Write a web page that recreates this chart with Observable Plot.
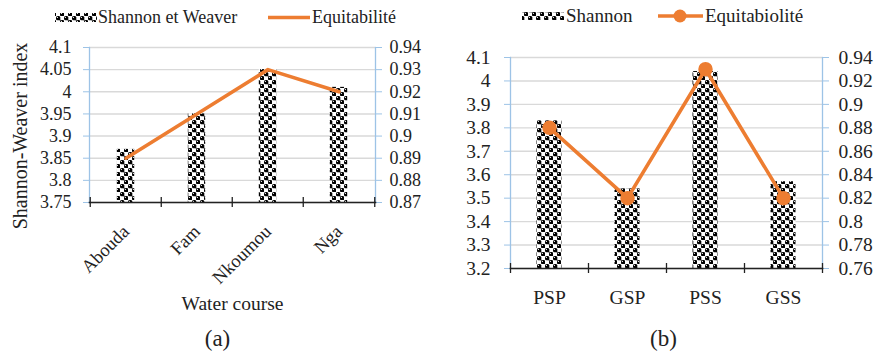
<!DOCTYPE html>
<html><head><meta charset="utf-8">
<script src="https://cdn.jsdelivr.net/npm/d3@7"></script>
<script src="https://cdn.jsdelivr.net/npm/@observablehq/plot@0.6"></script>
<style>
body{margin:0;background:#fff;font-family:"Liberation Serif","Times New Roman",serif;}
#wrap{position:relative;width:882px;height:357px;overflow:hidden;background:#fff}
.panel{position:absolute;top:0}
.lg{position:absolute;font-family:"Liberation Serif","Times New Roman",serif;color:#222;white-space:nowrap;line-height:1}
svg text{font-family:"Liberation Serif","Times New Roman",serif;}
</style></head><body>
<svg width="0" height="0" style="position:absolute">
  <defs>
    <pattern id="dots" width="8" height="8" patternUnits="userSpaceOnUse">
      <rect width="8" height="8" fill="#fff"/>
      <rect x="0" y="0" width="4.3" height="4.3" rx="1.5" fill="#000"/>
      <rect x="4" y="4" width="4.3" height="4.3" rx="1.5" fill="#000"/>
      <rect x="3.6" y="3.6" width="1.1" height="1.1" fill="#000"/>
      <circle cx="1.4" cy="1.4" r="0.55" fill="#fff"/>
      <circle cx="5.4" cy="5.4" r="0.55" fill="#fff"/>
    </pattern>
  </defs>
</svg>
<div id="wrap"></div>
<script>
// ---- Data panel (a)
const catsA = ["Abouda", "Fam", "Nkoumou", "Nga"];
const shannonA = [3.87, 3.95, 4.05, 4.01];
const equitA = [0.89, 0.91, 0.93, 0.92];
const yTicksA = [3.75, 3.8, 3.85, 3.9, 3.95, 4, 4.05, 4.1];
const eTicksA = [0.87, 0.88, 0.89, 0.9, 0.91, 0.92, 0.93, 0.94];
// ---- Data panel (b)
const catsB = ["PSP", "GSP", "PSS", "GSS"];
const shannonB = [3.83, 3.54, 4.04, 3.57];
const equitB = [0.88, 0.82, 0.93, 0.82];
const yTicksB = [3.2, 3.3, 3.4, 3.5, 3.6, 3.7, 3.8, 3.9, 4, 4.1];
const eTicksB = [0.76, 0.78, 0.8, 0.82, 0.84, 0.86, 0.88, 0.9, 0.92, 0.94];

const ORANGE = "#ED7D31", BLUE = "#9DC3E6", GRID = "#d9d9d9";
const FONT = "Liberation Serif, Times New Roman, serif";

function panel(cfg) {
  const {cats, sh, eq, yT, eT, width, height, mt, mb, ml, mr, fs, barFrac, rotate, xfs, dots} = cfg;
  const yMin = yT[0], yMax = yT[yT.length - 1], eMin = eT[0], eMax = eT[eT.length - 1];
  const toY = e => yMin + (e - eMin) / (eMax - eMin) * (yMax - yMin);
  const toE = y => +(eMin + (y - yMin) / (yMax - yMin) * (eMax - eMin)).toFixed(2);
  const data = cats.map((c, i) => ({cat: c, s: sh[i], e: eq[i], ey: toY(eq[i])}));
  const step = (width - ml - mr) / cats.length;
  const inset = step * (1 - barFrac) / 2;
  const marks = [
    Plot.gridY(yT, {stroke: GRID, strokeOpacity: 1, strokeWidth: 1.4}),
    Plot.barY(data, {x: "cat", y1: () => yMin, y2: "s", fill: "url(#dots)", insetLeft: inset, insetRight: inset}),
    Plot.frame({anchor: "left", stroke: BLUE, strokeWidth: 1.3}),
    Plot.frame({anchor: "right", stroke: BLUE, strokeWidth: 1.3}),
    Plot.axisY(yT, {anchor: "left", tickSize: 6, tickPadding: cfg.lpad, stroke: BLUE, fill: "#222", fontSize: fs, fontFamily: FONT, tickFormat: d => String(d), label: null}),
    Plot.axisY(eT.map(toY), {anchor: "right", tickSize: 6, tickPadding: cfg.rpad, stroke: BLUE, fill: "#222", fontSize: fs, fontFamily: FONT, tickFormat: d => String(toE(d)), label: null}),
    Plot.axisX({anchor: "bottom", tickSize: 0, tickPadding: cfg.xpad, tickRotate: rotate, fontSize: xfs, fontFamily: FONT, fill: "#222", label: null}),
    Plot.frame({anchor: "bottom", stroke: "#222", strokeWidth: 1.6}),
    Plot.ruleX(cats, {x: d => d, y1: () => yMin, y2: () => yMin, insetTop: -5, insetBottom: -5, dx: -step / 2, stroke: "#222", strokeWidth: 1.3}),
    Plot.ruleX(cats.slice(-1), {x: d => d, y1: () => yMin, y2: () => yMin, insetTop: -5, insetBottom: -5, dx: step / 2, stroke: "#222", strokeWidth: 1.3}),
    Plot.line(data, {x: "cat", y: "ey", stroke: ORANGE, strokeWidth: 3.6, strokeLinejoin: "round"})
  ];
  if (dots) marks.push(Plot.dot(data, {x: "cat", y: "ey", r: 6.5, fill: ORANGE, stroke: ORANGE}));
  if (cfg.xTitle) marks.push(Plot.text([cfg.xTitle], {text: d => d, frameAnchor: "bottom", lineAnchor: "middle", textAnchor: "middle", dy: cfg.xTitleDy, fontSize: 19.5, fontFamily: FONT, fill: "#222"}));
  if (cfg.yTitle) marks.push(Plot.text([cfg.yTitle], {text: d => d, frameAnchor: "left", textAnchor: "middle", lineAnchor: "middle", rotate: -90, dx: cfg.yTitleDx, dy: cfg.yTitleDy, fontSize: 20, fontFamily: FONT, fill: "#222"}));
  marks.push(Plot.text([cfg.caption], {text: d => d, frameAnchor: "bottom", lineAnchor: "middle", textAnchor: "middle", dy: cfg.capDy, dx: cfg.capDx, fontSize: 23, fontFamily: FONT, fill: "#222"}));
  return Plot.plot({
    width, height, marginTop: mt, marginBottom: mb, marginLeft: ml, marginRight: mr,
    style: {fontFamily: FONT, background: "transparent", overflow: "visible"},
    x: {domain: cats, padding: 0},
    y: {domain: [yMin, yMax]},
    marks
  });
}

const wrap = document.getElementById("wrap");
const pa = panel({cats: catsA, sh: shannonA, eq: equitA, yT: yTicksA, eT: eTicksA,
  width: 441, height: 357, mt: 47, mb: 155, ml: 89, mr: 66, fs: 18, xfs: 18.5, barFrac: 0.25, rotate: -45,
  lpad: 12, rpad: 8, xpad: 26, dots: false,
  xTitle: "Water course", xTitleDy: 101, yTitle: "Shannon-Weaver index", yTitleDx: -69, yTitleDy: 11,
  caption: "(a)", capDy: 136, capDx: -15});
pa.classList.add("panel"); pa.style.left = "0px";
wrap.appendChild(pa);
const pb = panel({cats: catsB, sh: shannonB, eq: equitB, yT: yTicksB, eT: eTicksB,
  width: 441, height: 357, mt: 57, mb: 89, ml: 69, mr: 60, fs: 19.5, xfs: 19.5, barFrac: 0.32, rotate: 0,
  lpad: 14, rpad: 10, xpad: 22, dots: true,
  caption: "(b)", capDy: 70, capDx: -3});
pb.classList.add("panel"); pb.style.left = "441px";
wrap.appendChild(pb);

// Legends
const lg = document.createElement("div");
lg.innerHTML = `
<svg style="position:absolute;left:0;top:0" width="882" height="40">
  <rect x="55" y="13" width="42" height="9" fill="url(#dots)"/>
  <line x1="268" x2="310" y1="17.5" y2="17.5" stroke="${ORANGE}" stroke-width="3.6"/>
  <rect x="522" y="12" width="42" height="8" fill="url(#dots)"/>
  <line x1="658" x2="703" y1="16" y2="16" stroke="${ORANGE}" stroke-width="3.6"/>
  <circle cx="680" cy="16" r="6.5" fill="${ORANGE}"/>
</svg>
<div class="lg" style="left:98px;top:8px;font-size:18px">Shannon et Weaver</div>
<div class="lg" style="left:312px;top:8px;font-size:18px">Equitabilité</div>
<div class="lg" style="left:566px;top:6px;font-size:19px">Shannon</div>
<div class="lg" style="left:705px;top:6px;font-size:19px">Equitabiolité</div>`;
wrap.appendChild(lg);
</script>
</body></html>
